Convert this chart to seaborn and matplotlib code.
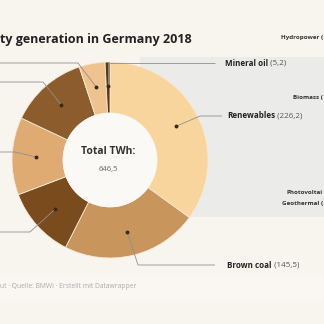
import numpy as np
import matplotlib
matplotlib.use("Agg")
import matplotlib.pyplot as plt
import seaborn as sns

# ---- data ----
sources = ["Renewables", "Brown coal", "Nuclear", "Hard coal", "Natural gas", "Other", "Mineral oil"]
twh = [226.2, 145.5, 76.0, 82.6, 83.4, 27.6, 5.2]
value_labels = ["226,2", "145,5", "76,0", "82,6", "83,4", "27,6", "5,2"]
slice_colors = ["#f8d59d", "#c8955d", "#7a4b1d", "#e0ab72", "#8c5c2c", "#efc38e", "#5a3815"]
total_label = "646,5"
renew_parts = ["Hydropower (", "Biomass (", "Photovoltai", "Geothermal ("]
title_text = "ty generation in Germany 2018"
footer_text = "ut · Quelle: BMWi · Erstellt mit Datawrapper"

sns.set_theme(style="white")
plt.rcParams["font.family"] = ["Open Sans", "DejaVu Sans"]

W = 324
fig = plt.figure(figsize=(3.24, 3.24), dpi=100)
fig.patch.set_facecolor("#f8f5ef")
ax = fig.add_axes([0, 0, 1, 1])

def Y(y):
    return W - y

cx, cy, R, rin = 110, 160, 98, 47
pal = sns.color_palette(slice_colors)
wedges, _ = ax.pie(twh, colors=pal, startangle=90, counterclock=False,
                   center=(cx, Y(cy)), radius=R, frame=True,
                   wedgeprops=dict(width=R - rin, edgecolor="#f6ead8", linewidth=0.6))
ax.set_xlim(0, W)
ax.set_ylim(0, W)
ax.set_aspect("equal")
ax.axis("off")

# gray panel behind renewables breakdown
ax.add_patch(plt.Rectangle((140, Y(217)), 190, 217 - 57, color="#ebebe9", zorder=0, lw=0))
ax.add_patch(plt.Rectangle((0, Y(300)), W, 24, color="#faf7f3", zorder=0, lw=0))
ax.add_patch(plt.Circle((cx, Y(cy)), rin - 0.5, color="#fbf9f6", zorder=3))

ax.text(cx - 2, Y(151), "Total TWh:", ha="center", va="center", fontsize=7.5,
        fontweight="bold", color="#333333", zorder=4)
ax.text(cx - 2, Y(170), total_label, ha="center", va="center", fontsize=5.5,
        color="#666666", zorder=4)

def dot_point(w, r=74):
    a = np.deg2rad((w.theta1 + w.theta2) / 2)
    return cx + r * np.cos(a), Y(cy) + r * np.sin(a)

# leader definitions: (elbow_x, elbow_y_img, end_x)
leaders = {
    "Renewables": (200, 116, 222),
    "Brown coal": (138, 265, 215),
    "Mineral oil": (None, 63, 215),
    "Other": (78, 63, -5),
    "Natural gas": (43, 82, -5),
    "Hard coal": (15, 152, -5),
    "Nuclear": (30, 232, -5),
}
label_pos = {"Renewables": (227, 116), "Brown coal": (227, 265), "Mineral oil": (225, 63)}

for w, name, val in zip(wedges, sources, value_labels):
    dx, dy = dot_point(w)
    ex, ey, endx = leaders[name]
    ey = Y(ey)
    if ex is None:
        ex = dx
    ax.plot([dx, ex, endx], [dy, ey, ey], color="#909090", lw=0.6, zorder=5,
            solid_capstyle="butt")
    ax.plot([dx], [dy], "o", color="#3b2a18", ms=1.8, zorder=6)
    if name in label_pos:
        lx, ly = label_pos[name]
        t = ax.text(lx, Y(ly), name, ha="left", va="center", fontsize=5.8,
                    fontweight="bold", color="#222222", zorder=6)
        ax.annotate(f" ({val})", xy=(1, 0.5), xycoords=t, ha="left", va="center",
                    fontsize=5.8, color="#555555", zorder=6)

# renewables breakdown labels (fragments visible at the right edge)
for txt, y in zip(renew_parts, [37, 98, 193, 203]):
    ax.text(323, Y(y), txt, ha="right", va="center", fontsize=4.5,
            fontweight="bold", color="#333333")

# title fragment at left edge
ax.text(0, Y(40), title_text, ha="left", va="center",
        fontsize=9.0, fontweight="bold", color="#222222")

# footer
ax.text(0, Y(287), footer_text, ha="left", va="center",
        fontsize=4.9, color="#aaaaaa")

fig.savefig("out.png", dpi=100, facecolor=fig.get_facecolor())
